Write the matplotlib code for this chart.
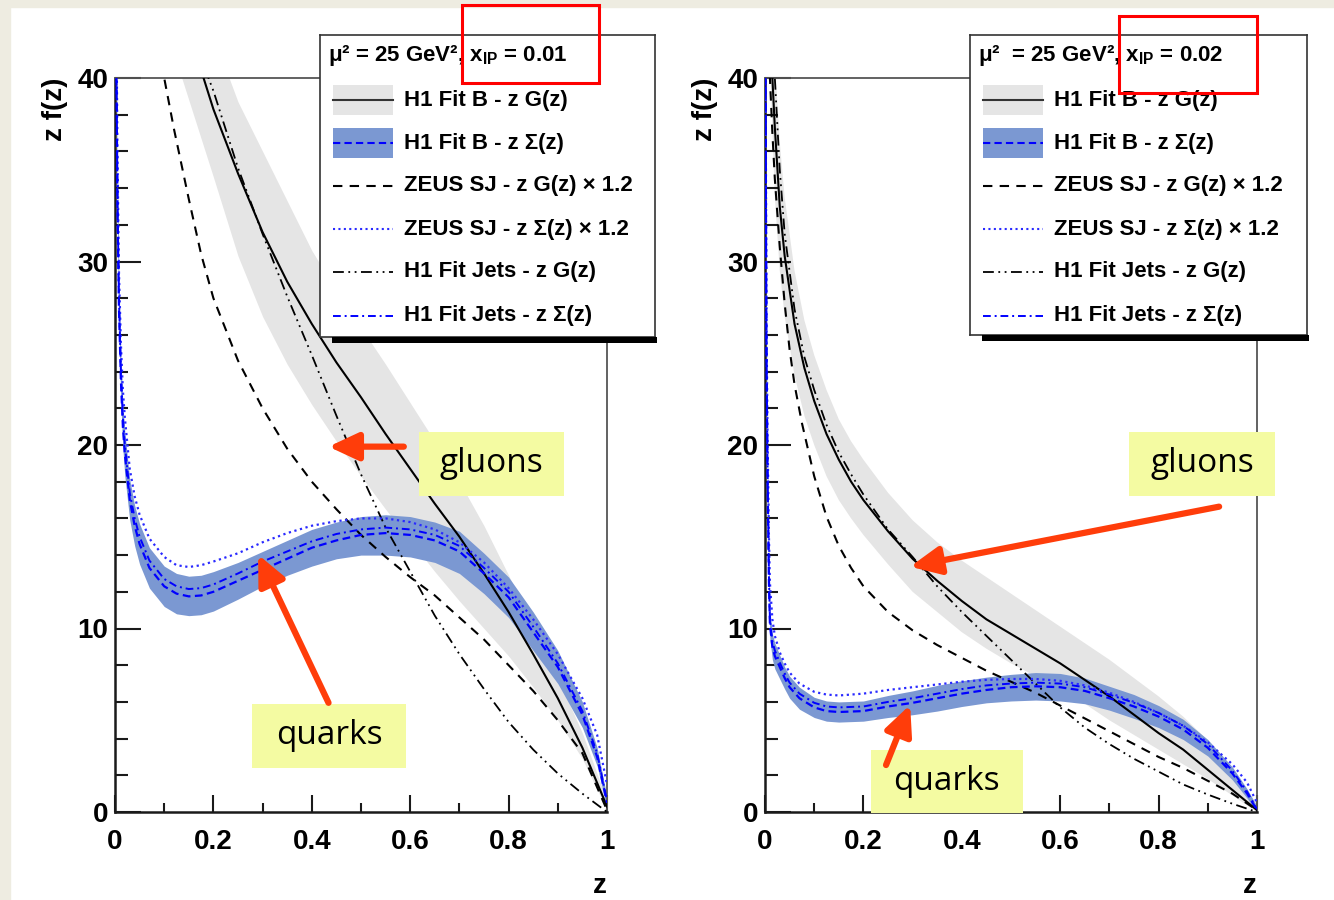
import matplotlib
matplotlib.use("Agg")
import matplotlib.pyplot as plt
from matplotlib.patches import Rectangle
from matplotlib.ticker import MultipleLocator, FuncFormatter

plt.rcParams['font.family'] = ['Liberation Sans', 'DejaVu Sans']
plt.rcParams['font.weight'] = 'bold'
plt.rcParams['mathtext.fontset'] = 'custom'
plt.rcParams['mathtext.rm'] = 'Liberation Sans:bold'
plt.rcParams['mathtext.it'] = 'Liberation Sans:bold'
plt.rcParams['mathtext.bf'] = 'Liberation Sans:bold'

# ---------------- data: x_IP = 0.01 (left) ----------------
gb_z_01 = [0.15, 0.18, 0.20, 0.25, 0.30, 0.35, 0.40, 0.45, 0.50, 0.55, 0.60,
           0.65, 0.70, 0.75, 0.80, 0.85, 0.90, 0.95, 1.00]
gb_01 = [42.5, 40.0, 38.3, 34.8, 31.6, 28.9, 26.6, 24.5, 22.6, 20.6, 18.7,
         16.8, 15.0, 13.0, 10.9, 8.6, 6.2, 3.5, 0.3]

gband_z_01 = [0.10, 0.15, 0.20, 0.25, 0.30, 0.35, 0.40, 0.45, 0.50, 0.55, 0.60,
              0.65, 0.70, 0.75, 0.80, 0.85, 0.90, 0.95, 1.00]
gband_lo_01 = [43.0, 38.8, 34.6, 30.3, 27.0, 24.4, 22.2, 20.2, 18.3, 16.5, 14.8,
               13.1, 11.5, 10.0, 8.5, 6.8, 5.0, 2.9, 0.1]
gband_hi_01 = [48.0, 46.0, 42.3, 38.7, 36.0, 33.3, 30.6, 28.4, 26.4, 24.4, 22.3,
               20.2, 18.0, 15.6, 12.9, 10.1, 7.3, 4.3, 0.6]

zeus_g_z_01 = [0.08, 0.10, 0.12, 0.15, 0.175, 0.20, 0.25, 0.30, 0.35, 0.40, 0.45,
               0.50, 0.55, 0.60, 0.65, 0.70, 0.75, 0.80, 0.85, 0.90, 0.95, 1.00]
zeus_g_01 = [43.5, 40.0, 37.2, 33.4, 30.4, 28.0, 24.6, 22.0, 19.8, 18.0, 16.5,
             15.1, 13.9, 12.8, 11.8, 10.6, 9.4, 8.0, 6.6, 5.0, 3.2, 0.1]

jets_g_z_01 = [0.17, 0.19, 0.20, 0.25, 0.30, 0.35, 0.40, 0.45, 0.50, 0.55, 0.60,
               0.65, 0.70, 0.75, 0.80, 0.85, 0.90, 0.95, 1.00]
jets_g_01 = [42.0, 40.0, 39.3, 35.1, 31.5, 28.1, 24.9, 21.6, 18.4, 15.5, 13.1,
             10.7, 8.6, 6.7, 4.9, 3.4, 2.1, 1.0, 0.0]

q_z_01 = [0.003, 0.005, 0.008, 0.012, 0.016, 0.02, 0.03, 0.04, 0.05, 0.07, 0.10,
          0.125, 0.15, 0.175, 0.20, 0.25, 0.30, 0.35, 0.40, 0.45, 0.50, 0.55,
          0.60, 0.65, 0.70, 0.75, 0.80, 0.85, 0.90, 0.95, 0.98, 1.00]
qb_01 = [40.0, 33.0, 27.5, 23.5, 21.0, 19.5, 17.0, 15.6, 14.6, 13.3, 12.3,
         11.9, 11.75, 11.8, 12.0, 12.6, 13.2, 13.8, 14.4, 14.8, 15.1, 15.2,
         15.1, 14.8, 14.2, 13.0, 11.7, 9.8, 7.9, 5.3, 3.0, 0.5]
qband_lo_01 = [38.5, 31.5, 26.0, 22.2, 19.8, 18.3, 15.9, 14.5, 13.5, 12.2, 11.2,
               10.8, 10.7, 10.75, 10.95, 11.6, 12.3, 12.9, 13.4, 13.8, 14.0, 14.0,
               13.9, 13.6, 13.0, 11.9, 10.6, 8.8, 7.0, 4.6, 2.5, 0.2]
qband_hi_01 = [41.5, 34.5, 29.0, 24.8, 22.2, 20.7, 18.1, 16.7, 15.7, 14.4, 13.4,
               13.0, 12.85, 12.9, 13.1, 13.6, 14.2, 14.8, 15.4, 15.8, 16.1, 16.2,
               16.1, 15.8, 15.3, 14.1, 12.8, 10.9, 8.8, 6.0, 3.5, 0.8]
jets_q_01 = [40.5, 33.5, 28.0, 24.0, 21.5, 20.0, 17.4, 16.0, 15.0, 13.7, 12.7,
             12.3, 12.15, 12.2, 12.4, 13.0, 13.65, 14.2, 14.75, 15.15, 15.4, 15.5,
             15.4, 15.1, 14.5, 13.3, 12.0, 10.1, 8.1, 5.5, 3.2, 0.6]
zeus_q_01 = [43.0, 36.0, 29.5, 25.5, 23.0, 21.5, 18.7, 17.2, 16.2, 14.9, 13.9,
             13.45, 13.35, 13.45, 13.65, 14.1, 14.7, 15.2, 15.6, 15.85, 16.0, 16.0,
             15.8, 15.4, 14.7, 13.6, 12.2, 10.5, 8.6, 6.2, 4.2, 1.5]

# ---------------- data: x_IP = 0.02 (right) ----------------
gb_z_02 = [0.012, 0.015, 0.02, 0.03, 0.04, 0.06, 0.08, 0.10, 0.125, 0.15, 0.175,
           0.20, 0.25, 0.30, 0.35, 0.40, 0.45, 0.50, 0.55, 0.60, 0.65, 0.70,
           0.75, 0.80, 0.85, 0.90, 0.95, 1.00]
gb_02 = [42.5, 40.0, 37.3, 33.0, 30.3, 26.6, 24.2, 22.4, 20.6, 19.2, 18.0,
         17.0, 15.3, 13.8, 12.6, 11.5, 10.5, 9.7, 8.9, 8.1, 7.2, 6.3,
         5.3, 4.3, 3.4, 2.3, 1.2, 0.1]

gband_z_02 = [0.01, 0.02, 0.03, 0.04, 0.06, 0.08, 0.10, 0.125, 0.15, 0.175, 0.20,
              0.25, 0.30, 0.35, 0.40, 0.45, 0.50, 0.55, 0.60, 0.65, 0.70, 0.75,
              0.80, 0.85, 0.90, 0.95, 1.00]
gband_lo_02 = [41.0, 33.5, 29.5, 27.0, 23.8, 21.6, 20.0, 18.3, 17.0, 16.0, 15.1,
               13.5, 12.0, 10.9, 9.8, 8.9, 8.1, 7.4, 6.7, 5.9, 5.0, 4.2,
               3.4, 2.6, 1.8, 0.9, 0.0]
gband_hi_02 = [50.0, 41.0, 36.5, 33.5, 29.5, 26.8, 24.9, 23.0, 21.4, 20.2, 19.2,
               17.4, 15.9, 14.7, 13.7, 12.8, 11.9, 11.0, 10.1, 9.2, 8.3, 7.3,
               6.3, 5.2, 3.9, 2.4, 0.4]

zeus_g_z_02 = [0.008, 0.01, 0.015, 0.02, 0.03, 0.04, 0.05, 0.06, 0.075, 0.10, 0.125,
               0.15, 0.175, 0.20, 0.25, 0.30, 0.35, 0.40, 0.45, 0.50, 0.55, 0.60,
               0.65, 0.70, 0.75, 0.80, 0.85, 0.90, 0.95, 1.00]
zeus_g_02 = [42.0, 40.0, 37.0, 34.5, 30.8, 27.7, 25.2, 23.3, 21.2, 18.3, 16.1,
             14.5, 13.3, 12.3, 10.9, 9.9, 9.1, 8.4, 7.7, 7.1, 6.5, 5.8,
             5.1, 4.4, 3.7, 3.0, 2.4, 1.7, 1.0, 0.1]

jets_g_z_02 = [0.015, 0.02, 0.03, 0.04, 0.06, 0.08, 0.10, 0.125, 0.15, 0.175, 0.20,
               0.25, 0.30, 0.35, 0.40, 0.45, 0.50, 0.55, 0.60, 0.65, 0.70, 0.75,
               0.80, 0.85, 0.90, 0.95, 1.00]
jets_g_02 = [43.0, 40.0, 35.0, 31.5, 27.4, 24.8, 23.0, 21.1, 19.6, 18.4, 17.3,
             15.4, 13.9, 12.3, 10.9, 9.6, 8.3, 7.0, 5.7, 4.6, 3.7, 2.9,
             2.2, 1.5, 0.95, 0.45, 0.0]

q_z_02 = [0.001, 0.003, 0.005, 0.008, 0.01, 0.015, 0.02, 0.03, 0.04, 0.05, 0.07,
          0.10, 0.125, 0.15, 0.20, 0.25, 0.30, 0.35, 0.40, 0.45, 0.50, 0.55,
          0.60, 0.65, 0.70, 0.75, 0.80, 0.85, 0.90, 0.95, 0.98, 1.00]
qb_02 = [40.0, 25.0, 18.5, 12.5, 10.2, 9.0, 8.5, 7.9, 7.3, 6.8, 6.2,
         5.7, 5.5, 5.45, 5.5, 5.75, 5.95, 6.2, 6.45, 6.65, 6.8, 6.85,
         6.8, 6.6, 6.2, 5.75, 5.2, 4.5, 3.5, 2.1, 1.0, 0.1]
qband_lo_02 = [38.5, 23.5, 17.3, 11.6, 9.4, 8.3, 7.8, 7.25, 6.7, 6.2, 5.6,
               5.15, 4.95, 4.9, 4.95, 5.15, 5.3, 5.5, 5.75, 5.95, 6.05, 6.1,
               6.05, 5.9, 5.55, 5.1, 4.6, 3.95, 3.05, 1.75, 0.75, 0.0]
qband_hi_02 = [41.5, 26.5, 19.7, 13.4, 11.0, 9.7, 9.2, 8.55, 7.9, 7.4, 6.8,
               6.25, 6.05, 6.0, 6.05, 6.35, 6.6, 6.9, 7.15, 7.35, 7.5, 7.6,
               7.55, 7.3, 6.85, 6.4, 5.8, 5.05, 3.95, 2.45, 1.25, 0.3]
jets_q_02 = [40.5, 25.5, 19.0, 12.9, 10.5, 9.3, 8.8, 8.15, 7.55, 7.05, 6.45,
             5.95, 5.75, 5.7, 5.75, 6.0, 6.2, 6.45, 6.7, 6.9, 7.0, 7.05,
             7.0, 6.8, 6.4, 5.95, 5.4, 4.7, 3.7, 2.25, 1.1, 0.15]
zeus_q_02 = [42.0, 27.0, 21.0, 15.0, 12.5, 10.5, 9.6, 8.7, 8.1, 7.6, 7.0,
             6.55, 6.4, 6.35, 6.45, 6.65, 6.8, 6.95, 7.1, 7.2, 7.25, 7.25,
             7.15, 6.9, 6.5, 6.0, 5.4, 4.7, 3.8, 2.6, 1.6, 0.5]

legend_labels = ["H1 Fit B - z G(z)", "H1 Fit B - z \u03a3(z)",
                 "ZEUS SJ - z G(z) \u00d7 1.2", "ZEUS SJ - z \u03a3(z) \u00d7 1.2",
                 "H1 Fit Jets - z G(z)", "H1 Fit Jets - z \u03a3(z)"]
titles = ["\u03bc\u00b2 = 25 GeV\u00b2, x$_{\\mathrm{IP}}$ = 0.01",
          "\u03bc\u00b2  = 25 GeV\u00b2, x$_{\\mathrm{IP}}$ = 0.02"]

# ---------------- styles ----------------
GRAY = '#e5e5e5'
BLUEBAND = '#7b98d2'
BLUE = '#0000ff'
RED = '#ff3d0a'
YELLOW = '#f4fba2'
LS_ZEUS_G = (0, (4.5, 3.5))
LS_JETS_G = (0, (6, 2.5, 1, 2.5, 1, 2.5))
LS_B_Q = (0, (3.5, 2))
LS_ZEUS_Q = (0, (1, 1.6))
LS_JETS_Q = (0, (4, 2, 1, 2))

W, H = 1334, 900
fig = plt.figure(figsize=(W / 100, H / 100), dpi=100)
fig.patch.set_facecolor('white')

# beige slide frame at top / left
fig.patches.append(Rectangle((0, 1 - 7 / H), 1, 7 / H, transform=fig.transFigure,
                             color='#eeece1', zorder=-5))
fig.patches.append(Rectangle((0, 0), 10 / W, 1, transform=fig.transFigure,
                             color='#eeece1', zorder=-5))


def my_formatter(x, pos):
    x = round(x, 6)
    if float(x).is_integer():
        return "%d" % int(x)
    return "%.1f" % x


def draw_panel(ax, gz, g, bz, blo, bhi, zgz, zg, jgz, jg, qz, qb, qlo, qhi, jq, zq):
    ax.fill_between(bz, blo, bhi, color=GRAY, lw=0, zorder=1)
    ax.fill_between(qz, qlo, qhi, color=BLUEBAND, lw=0, zorder=2)
    ax.plot(gz, g, color='black', lw=1.5, zorder=3)
    ax.plot(zgz, zg, color='black', lw=1.5, ls=LS_ZEUS_G, zorder=3)
    ax.plot(jgz, jg, color='black', lw=1.3, ls=LS_JETS_G, zorder=3)
    ax.plot(qz, zq, color='#2a2aff', lw=1.6, ls=LS_ZEUS_Q, zorder=4)
    ax.plot(qz, jq, color=BLUE, lw=1.4, ls=LS_JETS_Q, zorder=4)
    ax.plot(qz, qb, color=BLUE, lw=1.6, ls=LS_B_Q, zorder=4)

    ax.set_xlim(0, 1)
    ax.set_ylim(0, 40)
    ax.xaxis.set_major_locator(MultipleLocator(0.2))
    ax.xaxis.set_minor_locator(MultipleLocator(0.1))
    ax.yaxis.set_major_locator(MultipleLocator(10))
    ax.yaxis.set_minor_locator(MultipleLocator(2))
    ax.xaxis.set_major_formatter(FuncFormatter(my_formatter))
    ax.yaxis.set_major_formatter(FuncFormatter(my_formatter))
    ax.tick_params(axis='both', which='both', direction='in', top=False, right=False,
                   width=1.5, color='#1a1a1a', labelsize=20)
    ax.tick_params(axis='y', which='major', length=19, pad=5)
    ax.tick_params(axis='y', which='minor', length=9.5)
    ax.tick_params(axis='x', which='major', length=12, pad=12)
    ax.tick_params(axis='x', which='minor', length=6.5)
    for s in ['left', 'bottom']:
        ax.spines[s].set_linewidth(1.8)
        ax.spines[s].set_color('#1a1a1a')
    for s in ['top', 'right']:
        ax.spines[s].set_linewidth(1.3)
        ax.spines[s].set_color('#555555')
    ax.set_ylabel('z f(z)', fontsize=20, fontweight='bold', loc='top')
    ax.yaxis.set_label_coords(-0.0955, 1.0)
    ax.set_xlabel('z', fontsize=20, fontweight='bold', loc='right')
    ax.xaxis.set_label_coords(1.0, -0.083)


def label_box(ax, text, x0, x1, y0, y1):
    ax.add_patch(Rectangle((x0, y0), x1 - x0, y1 - y0, facecolor=YELLOW, lw=0,
                           zorder=6, clip_on=False))
    ax.text((x0 + x1) / 2, (y0 + y1) / 2, text, ha='center', va='center',
            fontsize=24, fontweight='normal', family='Open Sans', zorder=7,
            clip_on=False)


def arrow(ax, tail, tip):
    ax.annotate('', xy=tip, xytext=tail, zorder=8,
                arrowprops=dict(arrowstyle='-|>,head_length=0.9,head_width=0.42',
                                mutation_scale=20, lw=4.5, color=RED,
                                shrinkA=0, shrinkB=0))


def draw_legend(left, top, right, bottom, title):
    lax = fig.add_axes([left / W, 1 - bottom / H, (right - left) / W, (bottom - top) / H])
    lax.set_xlim(left, right)
    lax.set_ylim(bottom, top)
    lax.set_xticks([])
    lax.set_yticks([])
    for s in lax.spines.values():
        s.set_linewidth(1.2)
        s.set_color('#333333')
    hx0, hx1 = left + 13, left + 73
    tx = left + 84
    rows = [100, 143, 186, 229, 272, 316]
    lax.text(left + 8, 55, title, fontsize=16, fontweight='bold', va='center', ha='left')
    lax.add_patch(Rectangle((hx0, 85), hx1 - hx0, 30, color=GRAY, lw=0))
    lax.plot([hx0, hx1], [100, 100], color='#333333', lw=1.5)
    lax.add_patch(Rectangle((hx0, 128), hx1 - hx0, 30, color=BLUEBAND, lw=0))
    lax.plot([hx0, hx1], [143, 143], color=BLUE, lw=1.5, ls=LS_B_Q)
    lax.plot([hx0, hx1], [186, 186], color='black', lw=1.5, ls=LS_ZEUS_G)
    lax.plot([hx0, hx1], [229, 229], color='#2a2aff', lw=1.5, ls=LS_ZEUS_Q)
    lax.plot([hx0, hx1], [272, 272], color='black', lw=1.3, ls=LS_JETS_G)
    lax.plot([hx0, hx1], [316, 316], color=BLUE, lw=1.4, ls=LS_JETS_Q)
    for r, lab in zip(rows, legend_labels):
        lax.text(tx, r, lab, fontsize=16, fontweight='bold', va='center', ha='left')
    # ROOT style shadow below the box
    fig.patches.append(Rectangle(((left + 12) / W, 1 - (bottom + 6) / H),
                                 (right + 2 - left - 12) / W, 6 / H,
                                 transform=fig.transFigure, color='black', lw=0))


ax1 = fig.add_axes([115 / W, 1 - 812 / H, 492 / W, 734 / H])
ax2 = fig.add_axes([765 / W, 1 - 812 / H, 492 / W, 734 / H])

draw_panel(ax1, gb_z_01, gb_01, gband_z_01, gband_lo_01, gband_hi_01,
           zeus_g_z_01, zeus_g_01, jets_g_z_01, jets_g_01,
           q_z_01, qb_01, qband_lo_01, qband_hi_01, jets_q_01, zeus_q_01)
draw_panel(ax2, gb_z_02, gb_02, gband_z_02, gband_lo_02, gband_hi_02,
           zeus_g_z_02, zeus_g_02, jets_g_z_02, jets_g_02,
           q_z_02, qb_02, qband_lo_02, qband_hi_02, jets_q_02, zeus_q_02)

# annotations, left
label_box(ax1, 'gluons', 0.617, 0.912, 17.24, 20.73)
arrow(ax1, (0.587, 19.91), (0.434, 19.91))
label_box(ax1, 'quarks', 0.279, 0.591, 2.40, 5.89)
arrow(ax1, (0.434, 5.95), (0.291, 14.02))

# annotations, right
label_box(ax2, 'gluons', 0.740, 1.037, 17.24, 20.73)
arrow(ax2, (0.923, 16.64), (0.295, 13.37))
label_box(ax2, 'quarks', 0.215, 0.524, -0.05, 3.38)
arrow(ax2, (0.246, 2.56), (0.295, 5.84))

draw_legend(320, 35, 655, 337, titles[0])
draw_legend(970, 35, 1307, 335, titles[1])

# red highlight boxes
for (x0, y0, x1, y1) in [(462, 5, 599, 83), (1119, 16, 1257, 93)]:
    fig.patches.append(Rectangle((x0 / W, 1 - y1 / H), (x1 - x0) / W, (y1 - y0) / H,
                                 transform=fig.transFigure, fill=False,
                                 ec='#ff0000', lw=2.2, zorder=10))

fig.savefig('out.png', dpi=100)
